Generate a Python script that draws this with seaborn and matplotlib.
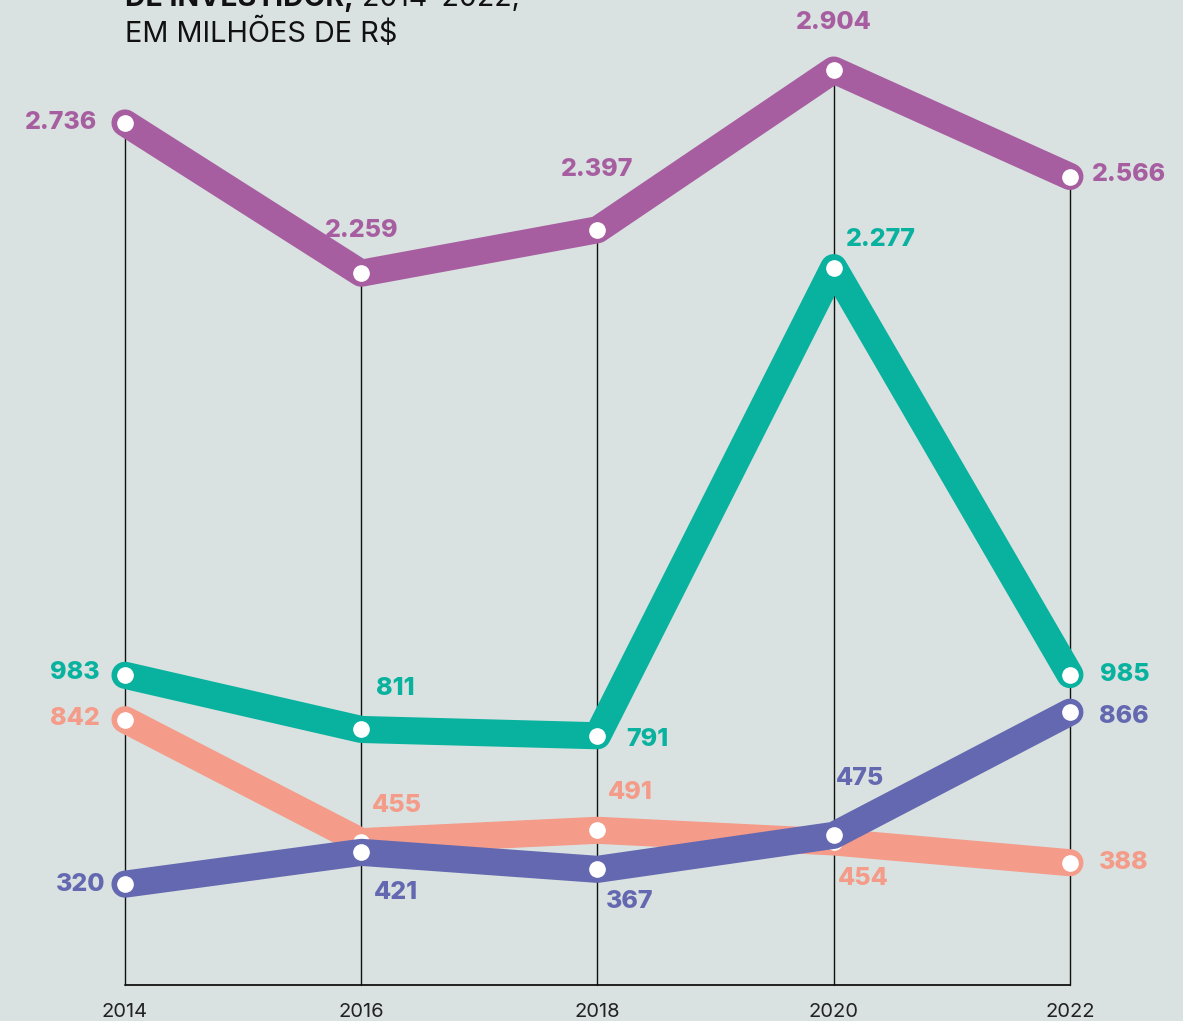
import matplotlib
matplotlib.use("Agg")
import matplotlib.pyplot as plt
import seaborn as sns
import pandas as pd

years = [2014, 2016, 2018, 2020, 2022]
purple_vals = [2736, 2259, 2397, 2904, 2566]
green_vals = [983, 811, 791, 2277, 985]
salmon_vals = [842, 455, 491, 454, 388]
blue_vals = [320, 421, 367, 475, 866]

purple_lbl = ["2.736", "2.259", "2.397", "2.904", "2.566"]
green_lbl = ["983", "811", "791", "2.277", "985"]
salmon_lbl = ["842", "455", "491", "454", "388"]
blue_lbl = ["320", "421", "367", "475", "866"]

BG = "#d9e2e0"
C_PURPLE = "#a75ea1"
C_GREEN = "#09b19f"
C_SALMON = "#f49b89"
C_BLUE = "#6468b0"

sns.set_theme(style="white")
plt.rcParams['font.family'] = ['Inter', 'DejaVu Sans']

fig = plt.figure(figsize=(11.83, 10.21), dpi=100, facecolor=BG)
ax = fig.add_axes([0, 0, 1, 1])
ax.set_facecolor(BG)
ax.set_xlim(2012.942, 2022.957)
ax.set_ylim(-114.3, 3126.2)
ax.axis("off")

# vertical guide lines and baseline
all_series = [purple_vals, green_vals, salmon_vals, blue_vals]
for i, yr in enumerate(years):
    top = max(s[i] for s in all_series)
    ax.plot([yr, yr], [0, top], color="#111111", lw=1.0, zorder=1)
ax.plot([years[0], years[-1]], [0, 0], color="#111111", lw=1.3, zorder=1)

series = [
    (salmon_vals, C_SALMON),
    (blue_vals, C_BLUE),
    (green_vals, C_GREEN),
    (purple_vals, C_PURPLE),
]
z = 2
for vals, col in series:
    df = pd.DataFrame({"year": years, "value": vals})
    sns.lineplot(data=df, x="year", y="value", ax=ax, color=col, linewidth=19.5,
                 solid_capstyle="round", solid_joinstyle="round", zorder=z,
                 legend=False)
    ax.plot(years, vals, linestyle="none", marker="o", markersize=11,
            markerfacecolor="white", markeredgecolor="white", zorder=z + 0.5)
    z += 1

def lab(x, y, txt, col, dx, dy, ha):
    ax.annotate(txt, (x, y), xytext=(dx, dy), textcoords="offset pixels",
                ha=ha, va="center", color=col, fontsize=18, fontweight=800,
                zorder=20)

p_off = [(-28, 0, "right"), (0, 43, "center"), (0, 60, "center"), (0, 48, "center"), (22, 2, "left")]
g_off = [(-25, 3, "right"), (15, 41, "left"), (29, -4, "left"), (12, 28, "left"), (30, 0, "left")]
s_off = [(-25, 1, "right"), (11, 36, "left"), (10, 38, "left"), (4, -37, "left"), (29, 0, "left")]
b_off = [(-20, 0, "right"), (13, -40, "left"), (8, -32, "left"), (2, 57, "left"), (29, -4, "left")]

for vals, lbls, offs, col in [(purple_vals, purple_lbl, p_off, C_PURPLE),
                              (green_vals, green_lbl, g_off, C_GREEN),
                              (salmon_vals, salmon_lbl, s_off, C_SALMON),
                              (blue_vals, blue_lbl, b_off, C_BLUE)]:
    for yr, v, t, (dx, dy, ha) in zip(years, vals, lbls, offs):
        lab(yr, v, t, col, dx, dy, ha)

# year labels
for yr in years:
    ax.annotate(str(yr), (yr, 0), xytext=(0, -27), textcoords="offset pixels",
                ha="center", va="center", fontsize=14.5, color="#222222")

# title (partially cut off at top)
t1 = fig.text(125 / 1183, 1 - 6 / 1021, "DE INVESTIDOR,", fontsize=20.5, fontweight="bold",
              color="#111111", ha="left", va="baseline")
fig.canvas.draw()
ax.annotate(" 2014–2022,", xy=(1, 0), xycoords=t1, fontsize=20.5, color="#111111",
            ha="left", va="bottom", annotation_clip=False)
fig.text(125 / 1183, 1 - 42 / 1021, "EM MILHÕES DE R$", fontsize=20.8,
         color="#111111", ha="left", va="baseline")

fig.savefig("out.png", dpi=100, facecolor=BG)
